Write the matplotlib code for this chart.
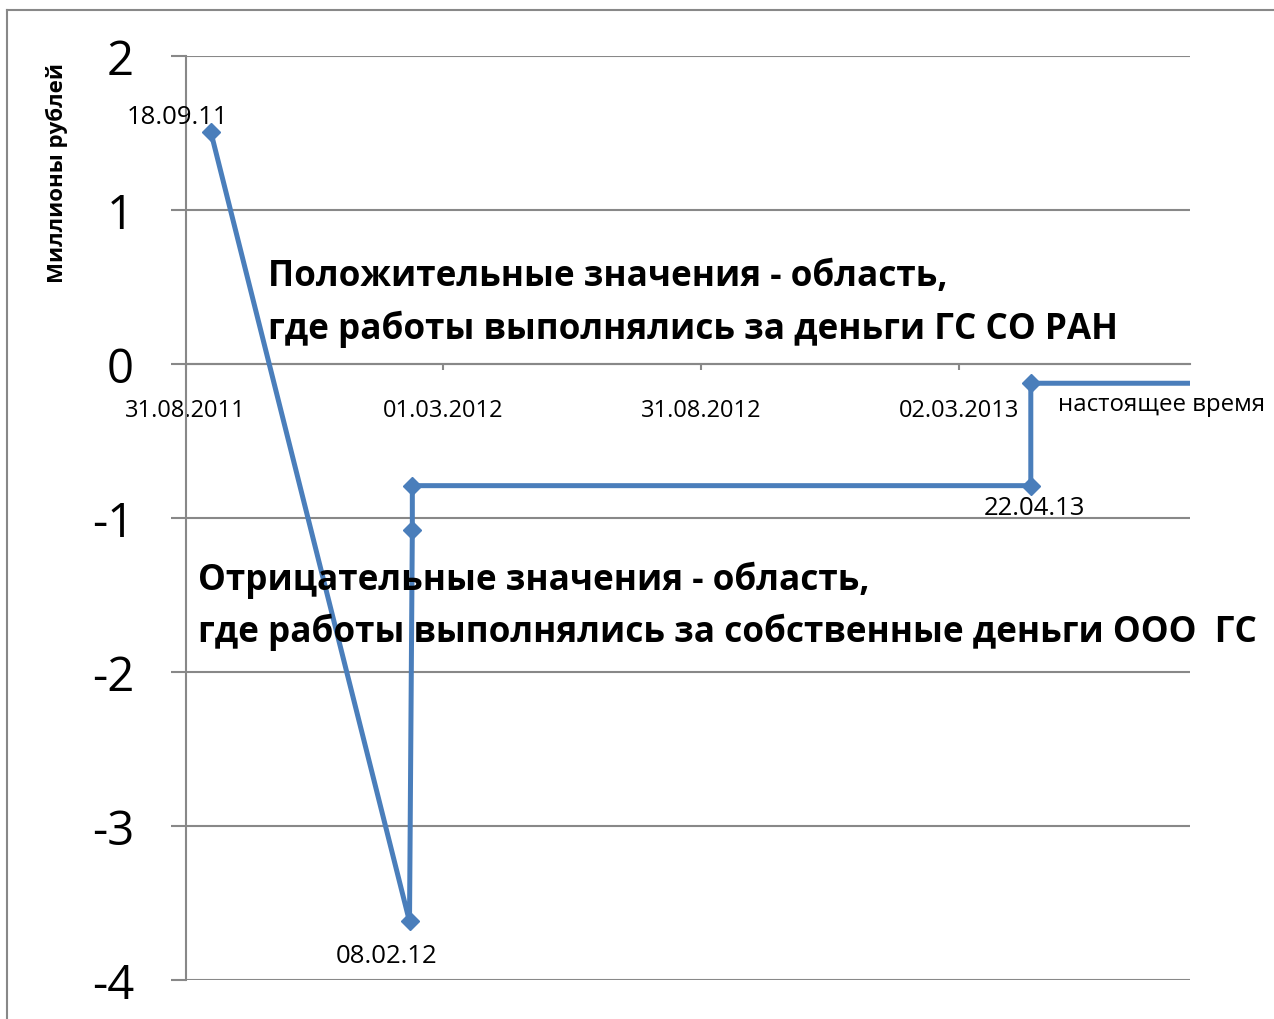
import numpy as np
import pandas as pd
import matplotlib
matplotlib.use('Agg')
import matplotlib.pyplot as plt
from matplotlib.lines import Line2D

plt.rcParams['font.family'] = ['Open Sans', 'DejaVu Sans']
plt.rcParams['axes.unicode_minus'] = False  # дефис вместо минуса

# данные
dates = pd.to_datetime(['2011-09-18', '2012-02-06', '2012-02-08', '2012-02-08',
                        '2013-04-22', '2013-04-22', '2013-08-13'])
values = [1.506, -3.62, -1.08, -0.79, -0.79, -0.125, -0.125]
point_labels = ['18.09.11', '08.02.12', '', '', '22.04.13', 'настоящее время', '']
label_offsets = [(-33, 16, 'center'), (-23, -34, 'center'), None, None,
                 (4, -22, 'center'), (27, -21, 'left'), None]
label_sizes = [18.5, 18.5, 0, 0, 18.5, 17.3, 0]
tick_dates = pd.to_datetime(['2011-08-31', '2012-03-01', '2012-08-31', '2013-03-02'])
tick_labels = ['31.08.2011', '01.03.2012', '31.08.2012', '02.03.2013']
y_ticks = [-4, -3, -2, -1, 0, 1, 2]

blue = '#4A7EBB'
gray = '#888888'
W, H = 1274, 1020

fig = plt.figure(figsize=(W / 100, H / 100), dpi=100)
ax = fig.add_axes([185.5 / W, 1 - 981 / H, (1190 - 185.5) / W, (981 - 57) / H])

ax.plot(dates, values, color=blue, lw=3.6, marker='D', ms=9.5,
        markevery=list(range(6)), zorder=3)

for d, v, lab, off, fs in zip(dates, values, point_labels, label_offsets, label_sizes):
    if lab:
        ax.annotate(lab, xy=(d, v), xytext=off[:2], textcoords='offset pixels',
                    ha=off[2], va='center', fontsize=fs, annotation_clip=False)

ax.set_xlim(pd.Timestamp('2011-08-31'), pd.Timestamp('2013-08-13'))
ax.set_ylim(-4, 2)
ax.set_xticks(tick_dates)
ax.set_xticklabels(tick_labels)
ax.set_yticks(y_ticks)

for s in ['top', 'right']:
    ax.spines[s].set_visible(False)
ax.spines['bottom'].set_position(('data', 0))
ax.spines['bottom'].set_color(gray)
ax.spines['left'].set_color(gray)
ax.spines['bottom'].set_linewidth(1.5)
ax.spines['left'].set_linewidth(1.5)

ax.tick_params(axis='y', length=11, width=1.5, color=gray, pad=26, labelsize=34)
ax.tick_params(axis='x', length=4.5, width=1.5, color=gray, pad=20, labelsize=17)
ax.yaxis.grid(True, color=gray, lw=1.5)
ax.set_axisbelow(True)

# подписи областей
fig.text(268 / W, 1 - 277 / H, 'Положительные значения - область,', fontsize=25.3, fontweight='bold', va='center')
fig.text(268 / W, 1 - 329 / H, 'где работы выполнялись за деньги ГС СО РАН', fontsize=25.3, fontweight='bold', va='center')
fig.text(198 / W, 1 - 580 / H, 'Отрицательные значения - область,', fontsize=25.3, fontweight='bold', va='center')
fig.text(198 / W, 1 - 632 / H, 'где работы выполнялись за собственные деньги ООО  ГС', fontsize=25.3, fontweight='bold', va='center')

fig.text(57 / W, 1 - 173 / H, 'Миллионы рублей', rotation=90, fontsize=16,
         fontweight='bold', ha='center', va='center')

# рамка
fig.add_artist(Line2D([7 / W, 7 / W], [0, 1 - 11 / H], color=gray, lw=1.5))
fig.add_artist(Line2D([7 / W, 1], [1 - 11 / H, 1 - 11 / H], color=gray, lw=1.5))

fig.savefig('out.png', dpi=100)
